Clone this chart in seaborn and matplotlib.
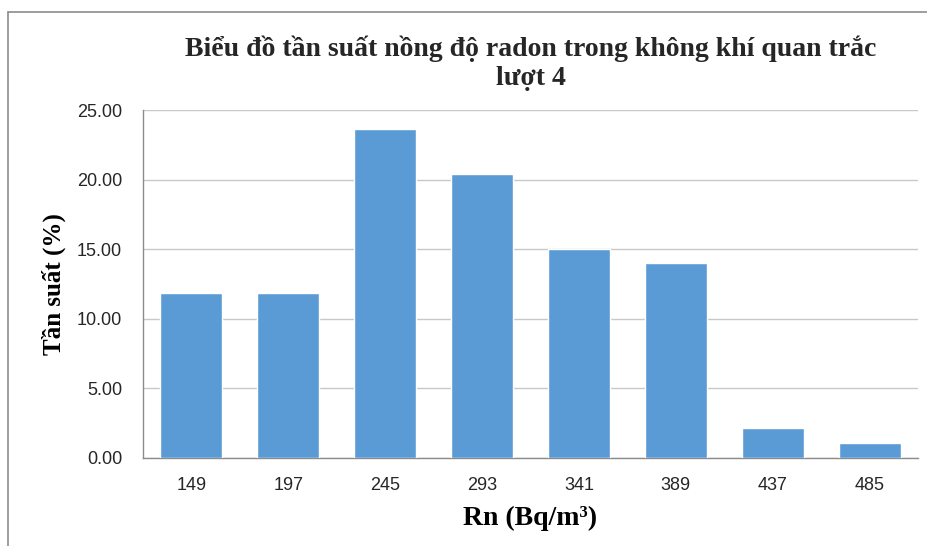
import matplotlib
matplotlib.use("Agg")
import matplotlib.pyplot as plt
import seaborn as sns
import pandas as pd
from matplotlib.lines import Line2D

categories = ["149", "197", "245", "293", "341", "389", "437", "485"]
values = [11.83, 11.83, 23.66, 20.43, 15.05, 13.98, 2.15, 1.08]
yticks = [0, 5, 10, 15, 20, 25]

title = "Biểu đồ tần suất nồng độ radon trong không khí quan trắc\nlượt 4"
xlabel = "Rn (Bq/m³)"
ylabel = "Tần suất (%)"

sns.set_theme(style="white")
plt.rcParams['font.family'] = ['Liberation Sans', 'DejaVu Sans']

df = pd.DataFrame({"Rn": categories, "freq": values})

fig = plt.figure(figsize=(9.28, 5.46), dpi=100)
ax = fig.add_axes([143/928, 1-458/546, (918-143)/928, (458-110)/546])

sns.barplot(data=df, x="Rn", y="freq", order=categories, color="#5B9BD5",
            saturation=1, width=0.64, ax=ax, zorder=3)

ax.set_ylim(0, 25)
ax.set_xlim(-0.5, len(categories)-0.5)
ax.set_yticks(yticks)
ax.set_yticklabels([f"{v:.2f}" for v in yticks])
ax.yaxis.grid(True, color="#c8c8c8", linewidth=1, zorder=0)
ax.xaxis.grid(False)
for s in ["top", "right"]:
    ax.spines[s].set_visible(False)
for s in ["left", "bottom"]:
    ax.spines[s].set_color("#8c8c8c")
    ax.spines[s].set_linewidth(1)
ax.tick_params(axis="both", length=0, labelsize=13, colors="#262626")
ax.tick_params(axis="x", pad=14)
ax.tick_params(axis="y", pad=15)

serif = ["Liberation Serif", "DejaVu Serif"]
ax.set_xlabel(xlabel, fontsize=20, fontweight="bold", family=serif, labelpad=8, color="black")
ax.set_ylabel(ylabel, fontsize=18, fontweight="bold", family=serif, labelpad=8, color="black")

fig.text(531/928, 1-63/546, title, ha="center", va="center", fontsize=20, fontweight="bold",
         family=serif, linespacing=1.2)

# outer chart frame (top and left)
fig.add_artist(Line2D([8/928, 1], [1-12/546, 1-12/546], transform=fig.transFigure, color="#8c8c8c", lw=1.2))
fig.add_artist(Line2D([8/928, 8/928], [0, 1-12/546], transform=fig.transFigure, color="#8c8c8c", lw=1.2))

fig.savefig("out.png", dpi=100)
